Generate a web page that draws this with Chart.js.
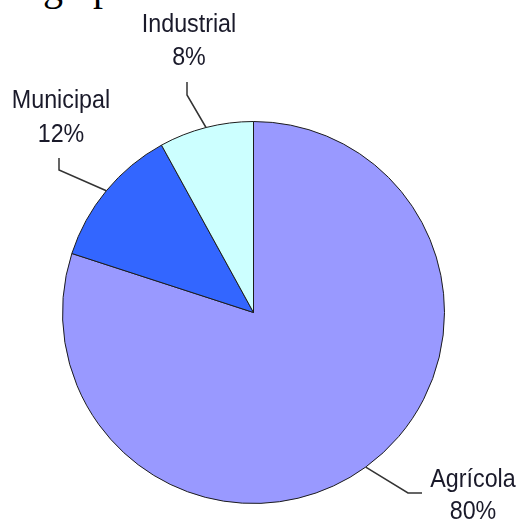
<!DOCTYPE html>
<html>
<head>
<meta charset="utf-8">
<script src="https://cdn.jsdelivr.net/npm/chart.js@4"></script>
<style>
  html, body { margin: 0; padding: 0; background: #fff; }
  #wrap { position: relative; width: 520px; height: 520px; overflow: hidden; }
  #caption {
    position: absolute; left: 43px; top: -33px;
    font: 40px "Liberation Serif", "DejaVu Serif", serif; color: #000;
    white-space: pre; line-height: 40px;
  }
  canvas { position: absolute; left: 0; top: 0; }
</style>
</head>
<body>
<div id="wrap">
  <div id="caption">g   p</div>
  <canvas id="pie" width="520" height="520"></canvas>
</div>
<script>
const categories = ['Agrícola', 'Municipal', 'Industrial'];
const shares = [80, 12, 8];
const sliceColors = ['#9999FF', '#3366FF', '#CCFFFF'];

// where each label sits (text centre x, first baseline y) and the leader elbows
const labelLayout = [
  { x: 473, y: 487, lineGap: 32, elbow: [408, 493], end: [422, 493] },
  { x: 61, y: 108, lineGap: 34, elbow: [59, 170], end: [59, 158] },
  { x: 189, y: 32, lineGap: 33, elbow: [187, 95], end: [187, 82] },
];

const pieLabels = {
  id: 'pieLabels',
  afterDraw(chart) {
    const ctx = chart.ctx;
    const meta = chart.getDatasetMeta(0);
    ctx.save();
    meta.data.forEach((arc, i) => {
      const lay = labelLayout[i];
      const mid = (arc.startAngle + arc.endAngle) / 2;
      const sx = arc.x + Math.cos(mid) * arc.outerRadius;
      const sy = arc.y + Math.sin(mid) * arc.outerRadius;
      ctx.strokeStyle = '#333';
      ctx.lineWidth = 1.5;
      ctx.beginPath();
      ctx.moveTo(sx, sy);
      ctx.lineTo(lay.elbow[0], lay.elbow[1]);
      ctx.lineTo(lay.end[0], lay.end[1]);
      ctx.stroke();

      // the source text is a little taller than it is wide
      ctx.save();
      ctx.translate(lay.x, lay.y);
      ctx.scale(0.97, 1.08);
      ctx.fillStyle = '#1a1a2a';
      ctx.font = '24px "Liberation Sans", Arial, sans-serif';
      ctx.textAlign = 'center';
      ctx.textBaseline = 'alphabetic';
      ctx.fillText(categories[i], 0, 0);
      ctx.fillText(shares[i] + '%', 0, lay.lineGap / 1.08);
      ctx.restore();
    });
    ctx.restore();
  },
};

new Chart(document.getElementById('pie'), {
  type: 'pie',
  data: {
    labels: categories,
    datasets: [{
      data: shares,
      backgroundColor: sliceColors,
      borderColor: '#1c1c1c',
      borderWidth: 1,
      hoverOffset: 0,
    }],
  },
  options: {
    responsive: false,
    animation: false,
    layout: { padding: { left: 62, right: 75, top: 121, bottom: 16 } },
    plugins: { legend: { display: false }, tooltip: { enabled: false } },
  },
  plugins: [pieLabels],
});
</script>
</body>
</html>
